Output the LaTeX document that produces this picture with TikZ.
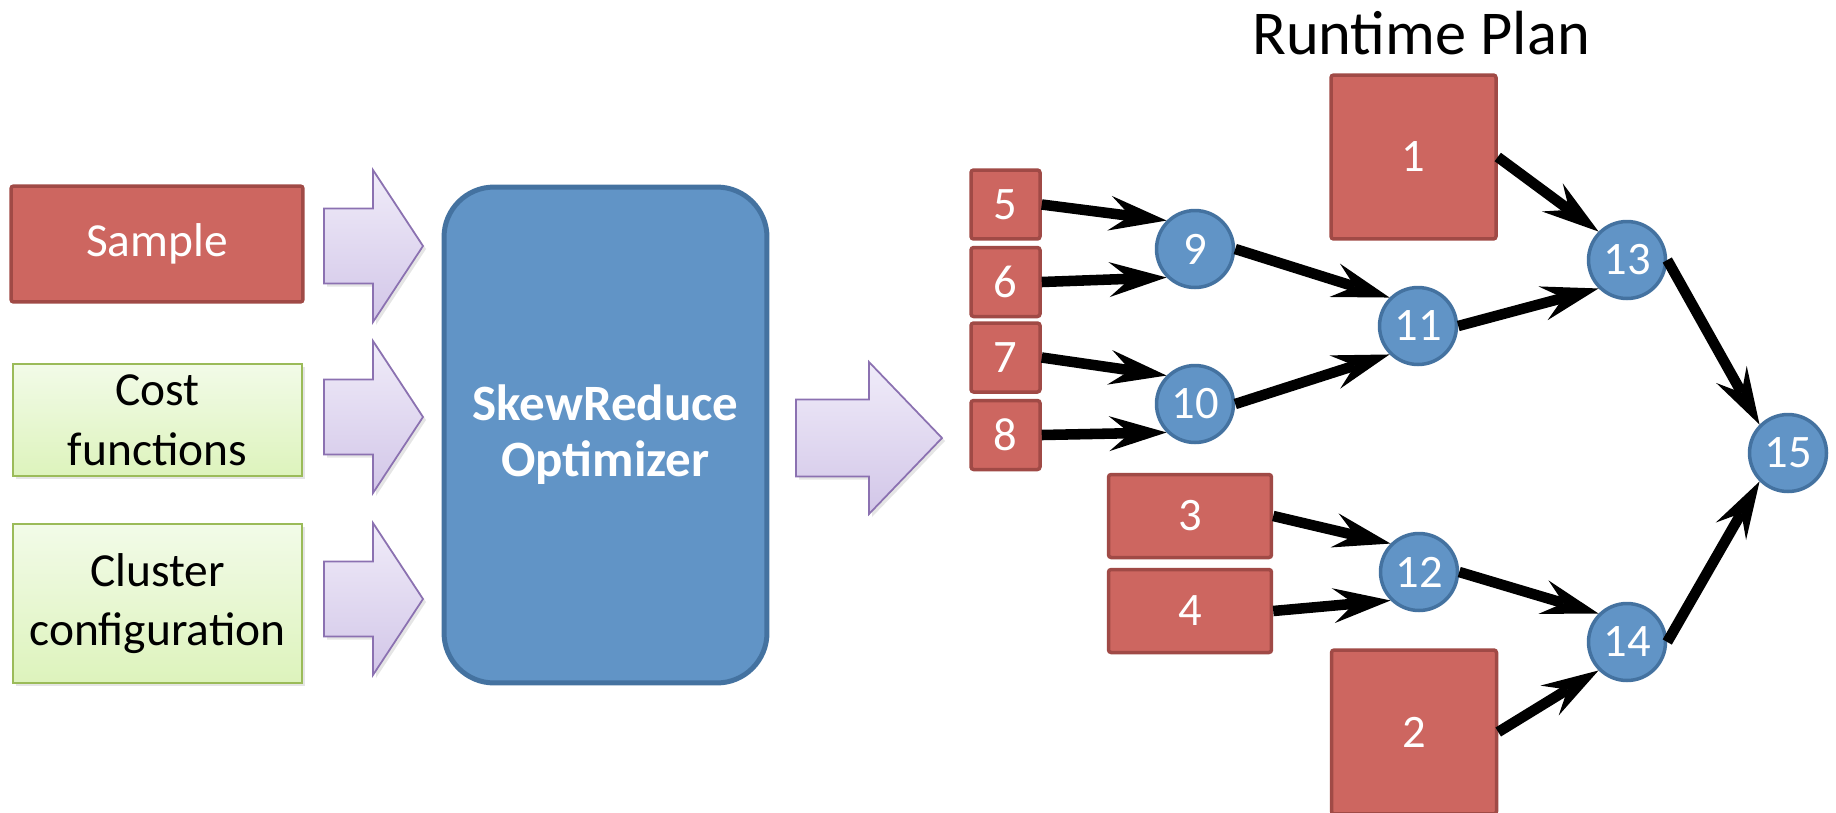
\documentclass[tikz,border=0pt]{standalone}
\usepackage{fontspec}
\setmainfont{Carlito}
\usetikzlibrary{arrows.meta}
\usetikzlibrary{shadows}

\definecolor{taskfill}{RGB}{205,102,96}
\definecolor{taskline}{RGB}{160,74,70}
\definecolor{mergefill}{RGB}{97,148,198}
\definecolor{mergeline}{RGB}{68,114,160}
\definecolor{greentop}{RGB}{242,251,232}
\definecolor{greenbot}{RGB}{221,243,188}
\definecolor{greenline}{RGB}{155,187,89}
\definecolor{lilactop}{RGB}{240,236,249}
\definecolor{lilacbot}{RGB}{210,198,232}
\definecolor{lilacline}{RGB}{139,113,177}

\begin{document}
\begin{tikzpicture}[x=0.02cm,y=-0.02cm]
\tikzstyle{task}=[draw=taskline,fill=taskfill,line width=0.07cm,rounded corners=1.5pt,inner sep=0pt,text=white,font=\fontsize{26.5}{30}\selectfont]
\tikzstyle{merge}=[circle,draw=mergeline,fill=mergefill,line width=0.07cm,minimum size=1.54cm,inner sep=0pt,text=white,font=\fontsize{26.5}{30}\selectfont]
\tikzstyle{setting}=[draw=greenline,top color=greentop,bottom color=greenbot,line width=0.045cm,inner sep=0pt,align=center,font=\fontsize{27}{34}\selectfont,drop shadow={opacity=0.2,shadow xshift=0.06cm,shadow yshift=-0.06cm}]
\tikzstyle{bigarrow}=[draw=lilacline,top color=lilactop,bottom color=lilacbot,line width=0.035cm,drop shadow={opacity=0.2,shadow xshift=0.06cm,shadow yshift=-0.06cm}]
\tikzstyle{flow}=[line width=6pt,-{Stealth[length=1.15cm,width=0.7cm,inset=0.42cm,line width=0pt]}]

% CANVAS
\fill [white] (0,0) rectangle (1836,812);
\useasboundingbox (0,0) rectangle (1836,812);

% INPUTS
\node (sample) [task,minimum width=5.84cm,minimum height=2.32cm,font=\fontsize{27}{34}\selectfont] at (157,244) {Sample};
\node (cost) [setting,minimum width=5.78cm,minimum height=2.25cm] at (157.5,420) {Cost\\functions};
\node (cluster) [setting,minimum width=5.78cm,minimum height=3.19cm] at (157.5,603.5) {Cluster\\configuration};

% BLOCK ARROWS
\foreach \c in {246,417,599}
  \draw [bigarrow] (324,\c-37.5) -- (373,\c-37.5) -- (373,\c-76) -- (423,\c) -- (373,\c+76) -- (373,\c+37.5) -- (324,\c+37.5) -- cycle;
\draw [bigarrow] (796,399.5) -- (869,399.5) -- (869,362) -- (942,438) -- (869,514) -- (869,476.5) -- (796,476.5) -- cycle;

% OPTIMIZER
\node (opt) [draw=mergeline,fill=mergefill,line width=0.1cm,rounded corners=1cm,minimum width=6.46cm,minimum height=9.92cm,text=white,align=center,font=\bfseries\fontsize{29}{32}\selectfont] at (605.5,435) {SkewReduce\\Optimizer};

% TITLE
\node (title) [anchor=base,font=\fontsize{35.5}{40}\selectfont] at (1421,54) {Runtime Plan};

% PARTITIONS
\node (b1) [task,minimum width=3.3cm,minimum height=3.28cm] at (1413.5,157) {1};
\node (b2) [task,minimum width=3.3cm,minimum height=3.28cm] at (1414,732) {2};
\node (b3) [task,minimum width=3.26cm,minimum height=1.66cm] at (1190,516) {3};
\node (b4) [task,minimum width=3.26cm,minimum height=1.66cm] at (1190,611) {4};
\node (b5) [task,minimum width=1.38cm,minimum height=1.38cm] at (1005.5,204.5) {5};
\node (b6) [task,minimum width=1.38cm,minimum height=1.38cm] at (1005.5,282) {6};
\node (b7) [task,minimum width=1.38cm,minimum height=1.38cm] at (1005.5,357.5) {7};
\node (b8) [task,minimum width=1.38cm,minimum height=1.38cm] at (1005.5,435) {8};

% MERGES
\node (c9) [merge] at (1195,249) {9};
\node (c10) [merge] at (1195,404) {10};
\node (c11) [merge] at (1418,326) {11};
\node (c12) [merge] at (1419,572) {12};
\node (c13) [merge] at (1627,260) {13};
\node (c14) [merge] at (1627,642) {14};
\node (c15) [merge] at (1788,453) {15};

% EDGES
\draw [flow] (b5.east) -- (c9.north west);
\draw [flow] (b6.east) -- (c9.south west);
\draw [flow] (b7.east) -- (c10.north west);
\draw [flow] (b8.east) -- (c10.south west);
\draw [flow] (c9.east) -- (c11.north west);
\draw [flow] (c10.east) -- (c11.south west);
\draw [flow] (b3.east) -- (c12.north west);
\draw [flow] (b4.east) -- (c12.south west);
\draw [flow] (b1.east) -- (c13.north west);
\draw [flow] (c11.east) -- (c13.south west);
\draw [flow] (c12.east) -- (c14.north west);
\draw [flow] (b2.east) -- (c14.south west);
\draw [flow] (c13.east) -- (c15.north west);
\draw [flow] (c14.east) -- (c15.south west);

\end{tikzpicture}
\end{document}
